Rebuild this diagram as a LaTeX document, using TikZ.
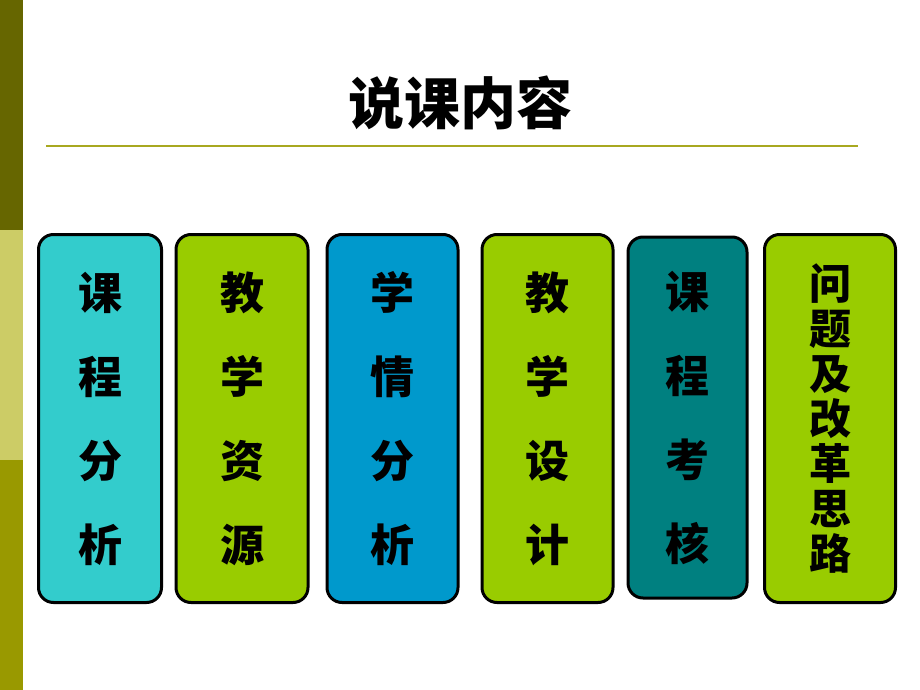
\documentclass[tikz,border=0pt]{standalone}
\usepackage{fontspec}
\newfontfamily\cjk{Noto Sans CJK SC}
\definecolor{olvdark}{HTML}{666600}
\definecolor{olvlight}{HTML}{CCCC66}
\definecolor{olvmid}{HTML}{999900}
\definecolor{rule}{HTML}{A8A820}
\definecolor{cyanbox}{HTML}{33CCCC}
\definecolor{greenbox}{HTML}{99CC00}
\definecolor{bluebox}{HTML}{0099CC}
\definecolor{tealbox}{HTML}{008080}
\tikzset{
  card/.style={draw=black, line width=3pt, rounded corners=15pt, inner sep=0pt, outer sep=0pt, align=center, anchor=north west},
  four/.style={font=\cjk\bfseries\fontsize{44}{84}\selectfont},
  seven/.style={font=\cjk\bfseries\fontsize{42}{45}\selectfont},
}
\begin{document}
\begin{tikzpicture}[x=1pt,y=-1pt]
\useasboundingbox[fill=white] (0,0) rectangle (920,690);
\fill[olvdark] (0,0) rectangle (23,230);
\fill[olvlight] (0,230) rectangle (23,460);
\fill[olvmid] (0,460) rectangle (23,690);
\node[font=\cjk\bfseries\fontsize{56}{60}\selectfont] (title) at (460,103) {说课内容};
\coordinate (ruleL) at (46,146);
\coordinate (ruleR) at (858,146);
\draw[rule, line width=2pt] (ruleL) -- (ruleR);
\node[card, four, fill=cyanbox, minimum width=123pt, minimum height=368pt] (b1) at (38.5,234.5) {课\\程\\分\\析};
\node[card, four, fill=greenbox, minimum width=132pt, minimum height=368pt] (b2) at (176,234.5) {教\\学\\资\\源};
\node[card, four, fill=bluebox, minimum width=131pt, minimum height=368pt] (b3) at (327,234.5) {学\\情\\分\\析};
\node[card, four, fill=greenbox, minimum width=131pt, minimum height=368pt] (b4) at (482,234.5) {教\\学\\设\\计};
\node[card, four, fill=tealbox, minimum width=119pt, minimum height=361pt] (b5) at (628,237) {课\\程\\考\\核};
\node[card, seven, fill=greenbox, minimum width=131pt, minimum height=368pt] (b6) at (764.5,234.5) {问\\题\\及\\改\\革\\思\\路};
\end{tikzpicture}
\end{document}
